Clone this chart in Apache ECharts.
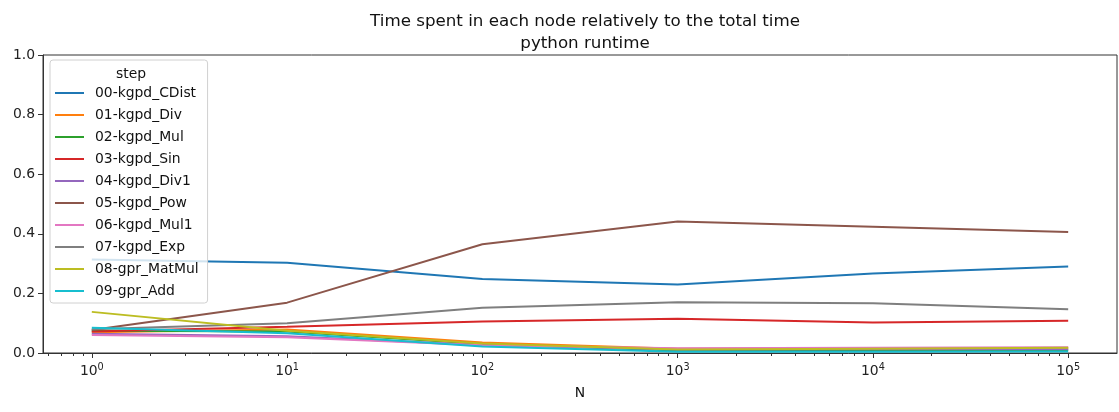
<!DOCTYPE html>
<html>
<head>
<meta charset="utf-8">
<script src="https://cdn.jsdelivr.net/npm/echarts@6/dist/echarts.min.js"></script>
<style>
html,body{margin:0;padding:0;background:#fff;}
#c{width:1119px;height:412px;}
</style>
</head>
<body>
<div id="c"></div>
<script>
const N = [1, 10, 100, 1000, 10000, 100000];
const stepNames = ['00-kgpd_CDist','01-kgpd_Div','02-kgpd_Mul','03-kgpd_Sin','04-kgpd_Div1','05-kgpd_Pow','06-kgpd_Mul1','07-kgpd_Exp','08-gpr_MatMul','09-gpr_Add'];
const cdist  = [0.314, 0.303, 0.248, 0.230, 0.267, 0.290];
const div    = [0.070, 0.079, 0.035, 0.014, 0.016, 0.017];
const mul    = [0.075, 0.072, 0.030, 0.008, 0.010, 0.010];
const sin    = [0.072, 0.088, 0.106, 0.115, 0.102, 0.108];
const div1   = [0.065, 0.056, 0.027, 0.012, 0.013, 0.013];
const pow    = [0.077, 0.169, 0.365, 0.441, 0.424, 0.406];
const mul1   = [0.060, 0.053, 0.026, 0.016, 0.018, 0.019];
const exp    = [0.080, 0.100, 0.152, 0.170, 0.167, 0.147];
const matmul = [0.138, 0.075, 0.032, 0.012, 0.014, 0.018];
const add    = [0.085, 0.066, 0.022, 0.004, 0.004, 0.005];
const yTicks = [0, 0.2, 0.4, 0.6, 0.8, 1.0];
const xExponents = [0, 1, 2, 3, 4, 5];

const values = [cdist, div, mul, sin, div1, pow, mul1, exp, matmul, add];
const colors = ['#1f77b4','#ff7f0e','#2ca02c','#d62728','#9467bd','#8c564b','#e377c2','#7f7f7f','#bcbd22','#17becf'];

const xMin = -0.25, xMax = 5.25;
const minor = [];
for (let e = -1; e <= 5; e++) {
  for (let k = 2; k <= 9; k++) {
    const v = Math.log10(k) + e;
    if (v > xMin && v < xMax) minor.push(v);
  }
}

const FONT = 'DejaVu Sans';
const FS = 13.9;
const chart = echarts.init(document.getElementById('c'), null, {renderer: 'canvas'});
chart.setOption({
  animation: false,
  color: colors,
  textStyle: {fontFamily: FONT},
  title: [{
    text: 'Time spent in each node relatively to the total time\npython runtime',
    left: 580, top: 6, textAlign: 'center',
    textStyle: {fontFamily: FONT, fontSize: 16.7, fontWeight: 'normal', color: '#111', lineHeight: 21.5}
  }, {
    text: 'step',
    left: 126, top: 62, textAlign: 'center',
    textStyle: {fontFamily: FONT, fontSize: FS, fontWeight: 'normal', color: '#111'}
  }],
  legend: {
    orient: 'vertical',
    left: 50, top: 60,
    padding: [26, 9, 5, 5],
    itemGap: 8,
    itemWidth: 29, itemHeight: 2,
    icon: 'rect',
    borderColor: '#d0d0d0', borderWidth: 1, borderRadius: 3,
    backgroundColor: 'rgba(255,255,255,0.8)',
    textStyle: {fontFamily: FONT, fontSize: FS, lineHeight: 14, color: '#111', padding: [0,0,0,6]},
    data: stepNames
  },
  grid: {left: 43, right: 2, top: 55, bottom: 59, show: true, borderColor: '#333', borderWidth: 1, backgroundColor: 'transparent'},
  xAxis: [{
    type: 'value', min: xMin, max: xMax,
    name: 'N', nameLocation: 'middle', nameGap: 33,
    nameTextStyle: {fontFamily: FONT, fontSize: FS, color: '#111'},
    axisLine: {show: true, onZero: false, lineStyle: {color: '#333', width: 1}},
    axisTick: {show: true, length: 5, lineStyle: {color: '#333'}, customValues: xExponents},
    axisLabel: {
      customValues: xExponents, margin: 9, color: '#222', fontFamily: FONT, fontSize: FS,
      formatter: v => '10{s|' + Math.round(v) + '}',
      rich: {s: {fontSize: 9.7, verticalAlign: 'top', padding: [0,0,8,0], color: '#222', fontFamily: FONT}}
    },
    splitLine: {show: false}
  }, {
    type: 'value', min: xMin, max: xMax, position: 'bottom',
    axisLine: {show: false, onZero: false},
    axisTick: {show: true, length: 3, lineStyle: {color: '#333'}, customValues: minor},
    axisLabel: {show: false},
    splitLine: {show: false}
  }],
  yAxis: {
    type: 'value', min: 0, max: 1, interval: 0.2,
    axisLine: {show: true, onZero: false, lineStyle: {color: '#333', width: 1}},
    axisTick: {show: true, length: 5, lineStyle: {color: '#333'}, customValues: yTicks},
    axisLabel: {customValues: yTicks, margin: 8, color: '#222', fontFamily: FONT, fontSize: FS, formatter: v => v.toFixed(1)},
    splitLine: {show: false}
  },
  series: stepNames.map((name, i) => ({
    name: name, type: 'line',
    xAxisIndex: 0,
    showSymbol: false, symbol: 'none',
    lineStyle: {width: 2, color: colors[i]},
    itemStyle: {color: colors[i]},
    emphasis: {disabled: true},
    data: N.map((n, j) => [Math.log10(n), values[i][j]])
  }))
});
</script>
</body>
</html>
